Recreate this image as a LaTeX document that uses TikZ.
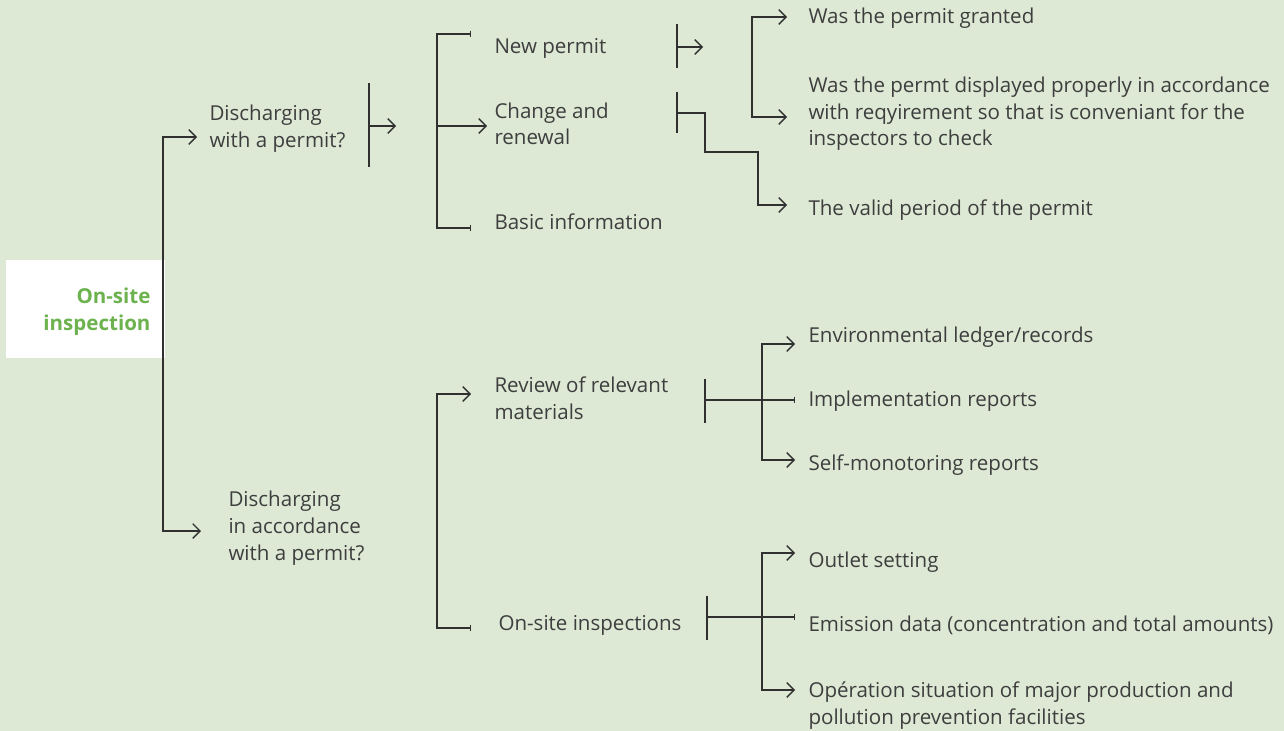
\documentclass[tikz,border=0pt]{standalone}
\usepackage{fontspec}
\setmainfont{Open Sans}
\usetikzlibrary{arrows.meta}

\definecolor{bgGreen}{RGB}{221,233,213}
\definecolor{titleGreen}{RGB}{108,178,78}
\definecolor{lineGray}{RGB}{48,48,48}
\definecolor{textGray}{RGB}{62,62,62}

\tikzset{
  every picture/.style={line width=0.75pt},
  conn/.style={draw=lineGray, line width=1pt},
  barb/.style={conn, -{Straight Barb[length=5.5pt,width=11pt,line width=1pt]}},
  tick/.style={conn, -{Bar[width=5pt,line width=1pt]}},
  item/.style={anchor=base west, align=left, inner sep=0pt, text=textGray,
    font=\fontsize{15.4}{20}\selectfont},
  title/.style={anchor=base east, align=right, inner sep=0pt, text=titleGreen,
    font=\fontsize{15.4}{20}\selectfont\bfseries},
}

\begin{document}
\begin{tikzpicture}[x=0.75pt,y=0.75pt,yscale=-1,xscale=1]
	%background
	\fill[bgGreen] (0,0) rectangle (1284,731);
	\useasboundingbox (0,0) rectangle (1284,731);

	%Shape: Rectangle [root box]
	\fill[white] (6,260) rectangle (165,358);
	% Text Node (base = last line)
	\node[title] (root) at (151,330) {On-site\\inspection};

	% Text Nodes, first level
	\node[item] (dwp) at (209,147) {Discharging\\with a permit?};
	\node[item] (dia) at (228,560) {Discharging\\in accordance\\with a permit?};
	% Text Nodes, second level
	\node[item] (newp) at (494,54) {New permit};
	\node[item] (chg) at (494,145) {Change and\\renewal};
	\node[item] (basic) at (494,229) {Basic information};
	\node[item] (review) at (494,419) {Review of relevant\\materials};
	\node[item] (onsite) at (498,630) {On-site inspections};
	% Text Nodes, third level
	\node[item] (granted) at (808,24) {Was the permit granted};
	\node[item] (disp) at (808,146) {Was the permt displayed properly in accordance\\with reqyirement so that is conveniant for the\\inspectors to check};
	\node[item] (valid) at (808,215) {The valid period of the permit};
	\node[item] (ledger) at (808,342) {Environmental ledger/records};
	\node[item] (impl) at (808,406) {Implementation reports};
	\node[item] (selfm) at (808,470) {Self-monotoring reports};
	\node[item] (outlet) at (808,567) {Outlet setting};
	\node[item] (emis) at (808,631) {Emission data (concentration and total amounts)};
	\node[item] (oper) at (808,724) {Opération situation of major production and\\pollution prevention facilities};

	% junction points
	\coordinate (trunk) at (163,309);
	\coordinate (dwpIn) at (197,137);
	\coordinate (diaIn) at (201,531);
	\coordinate (dwpBar) at (369,126);
	\coordinate (dwpOut) at (396,126);
	\coordinate (brA) at (437,126);
	\coordinate (newpIn) at (471,34);
	\coordinate (chgIn) at (487,126);
	\coordinate (basicIn) at (471,228);
	\coordinate (newpBar) at (677,47);
	\coordinate (newpOut) at (703,47);
	\coordinate (chgBar) at (677,113);
	\coordinate (brB) at (752,67);
	\coordinate (grantedIn) at (787,17);
	\coordinate (dispIn) at (787,117);
	\coordinate (validIn) at (787,205);
	\coordinate (brC) at (437,510);
	\coordinate (reviewIn) at (471,394);
	\coordinate (onsiteIn) at (471,628);
	\coordinate (reviewBar) at (705,400);
	\coordinate (brD) at (762,400);
	\coordinate (ledgerIn) at (795,344);
	\coordinate (implIn) at (795,400);
	\coordinate (selfmIn) at (795,460);
	\coordinate (onsiteBar) at (707,617);
	\coordinate (brE) at (762,617);
	\coordinate (outletIn) at (795,553);
	\coordinate (emisIn) at (795,617);
	\coordinate (operIn) at (795,690);

	%Straight Lines, root
	\draw[barb] (trunk) |- (dwpIn);
	\draw[barb] (trunk) |- (diaIn);

	%Straight Lines, discharging with a permit
	\draw[conn] ([yshift=-32]dwpBar) -- ([yshift=31]dwpBar);
	\draw[barb] (dwpBar) -- (dwpOut);
	\draw[tick] (brA) |- (newpIn);
	\draw[tick] (brA) |- (basicIn);
	\draw[barb] (brA) -- (chgIn);

	%Straight Lines, new permit
	\draw[conn] ([yshift=-17]newpBar) -- ([yshift=16]newpBar);
	\draw[barb] (newpBar) -- (newpOut);
	\draw[barb] (brB) |- (grantedIn);
	\draw[barb] (brB) |- (dispIn);

	%Straight Lines, change and renewal
	\draw[conn] ([yshift=-16]chgBar) -- ([yshift=15]chgBar);
	\draw[barb] (chgBar) -| (705,152) -| (758,205) -- (validIn);

	%Straight Lines, discharging in accordance
	\draw[barb] (brC) |- (reviewIn);
	\draw[tick] (brC) |- (onsiteIn);

	%Straight Lines, review of relevant materials
	\draw[conn] ([yshift=-16]reviewBar) -- ([yshift=17]reviewBar);
	\draw[tick] (reviewBar) -- (implIn);
	\draw[barb] (brD) |- (ledgerIn);
	\draw[barb] (brD) |- (selfmIn);

	%Straight Lines, on-site inspections
	\draw[conn] ([yshift=-16]onsiteBar) -- ([yshift=17]onsiteBar);
	\draw[tick] (onsiteBar) -- (emisIn);
	\draw[barb] (brE) |- (outletIn);
	\draw[barb] (brE) |- (operIn);
\end{tikzpicture}
\end{document}
